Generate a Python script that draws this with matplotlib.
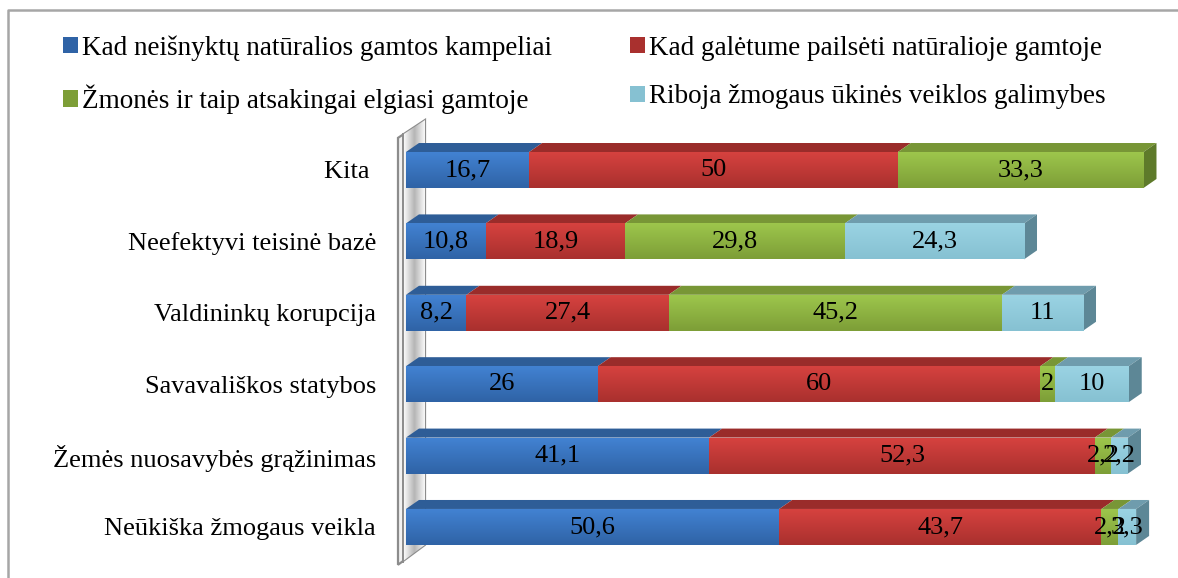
import numpy as np
import matplotlib.pyplot as plt
from matplotlib.colors import LinearSegmentedColormap
from matplotlib.patches import Polygon, Patch
from matplotlib.lines import Line2D

# -------------------------------------------------------------
# 3D-style stacked horizontal bars (Excel look)
# -------------------------------------------------------------

categories = ["Kita ", "Neefektyvi teisinė bazė", "Valdininkų korupcija",
              "Savavališkos statybos", "Žemės nuosavybės grąžinimas",
              "Neūkiška žmogaus veikla"]

series_names = ["Kad neišnyktų natūralios gamtos kampeliai",
                "Kad galėtume pailsėti natūralioje gamtoje",
                "Žmonės ir taip atsakingai elgiasi gamtoje",
                "Riboja žmogaus ūkinės veiklos galimybes"]

neisnyktu = [16.7, 10.8, 8.2, 26, 41.1, 50.6]
pailseti = [50, 18.9, 27.4, 60, 52.3, 43.7]
atsakingai = [33.3, 29.8, 45.2, 2, 2.2, 2.3]
riboja = [0, 24.3, 11, 10, 2.3, 2.4]

labels = [
    ["16,7", "10,8", "8,2", "26", "41,1", "50,6"],
    ["50", "18,9", "27,4", "60", "52,3", "43,7"],
    ["33,3", "29,8", "45,2", "2", "2,2", "2,2"],
    ["", "24,3", "11", "10", "2,2", "3,3"],
]

# front top colour, front bottom colour, top face, side face
palette = [
    ("#4282d2", "#2f63a6", "#2e5d97", "#254d80"),
    ("#d6423f", "#a9302e", "#9a2c2a", "#7e2321"),
    ("#9dc64c", "#7d9e37", "#789636", "#5e7a2a"),
    ("#9ad3e3", "#86c1d2", "#6f9cad", "#5d8796"),
]

plt.rcParams["font.family"] = ["Liberation Serif", "DejaVu Serif"]
FS = 19

fig = plt.figure(figsize=(11.78, 5.78), dpi=100)
ax = fig.add_axes([0.3321, 0.0142, 0.6574, 0.7905])

H = 0.504     # bar thickness
DX = 1.76     # depth offset in x
DY = 0.126    # depth offset in y

data = [neisnyktu, pailseti, atsakingai, riboja]
ypos = np.arange(len(categories))[::-1]

# back wall
wall = Polygon([(-1.08, 5.45), (2.58, 5.70), (2.58, -0.25), (-1.08, -0.53)],
               closed=True, facecolor="#f2f2f2", edgecolor="#8c8c8c", lw=1.6, zorder=1)
ax.add_patch(wall)
grad_w = np.linspace(0, 1, 50).reshape(1, -1)
wcmap = LinearSegmentedColormap.from_list("w", ["#ffffff", "#b5b5b5", "#ffffff"])
im = ax.imshow(grad_w, extent=[-0.41, 2.58, -0.6, 5.8], cmap=wcmap, aspect="auto", zorder=1.1)
im.set_clip_path(wall)
ax.plot([-0.41, -0.41], [5.5, -0.49], color="#8c8c8c", lw=1.4, zorder=1.2)

grad = np.linspace(0, 1, 64).reshape(-1, 1)

for i, y in enumerate(ypos):
    left = 0.0
    nonzero = [k for k in range(4) if data[k][i] > 0]
    last = nonzero[-1]
    for k in nonzero:
        w = data[k][i]
        right = left + w
        ctop, cbot, ctopface, cside = palette[k]
        cmap = LinearSegmentedColormap.from_list("g%d" % k, [ctop, cbot])
        ax.imshow(grad, extent=[left, right, y - H / 2, y + H / 2], cmap=cmap,
                  aspect="auto", origin="upper", zorder=3)
        ax.add_patch(Polygon([(left, y + H / 2), (right, y + H / 2),
                              (right + DX, y + H / 2 + DY), (left + DX, y + H / 2 + DY)],
                             closed=True, facecolor=ctopface, edgecolor="none", zorder=2.5))
        if k == last:
            ax.add_patch(Polygon([(right, y - H / 2), (right + DX, y - H / 2 + DY),
                                  (right + DX, y + H / 2 + DY), (right, y + H / 2)],
                                 closed=True, facecolor=cside, edgecolor="none", zorder=2.5))
        ax.text((left + right) / 2, y, labels[k][i], ha="center", va="center",
                fontsize=FS, color="black", zorder=5)
        left = right

ax.set_xlim(-2, 103)
ax.set_ylim(-0.6, 5.8)
ax.set_yticks(ypos)
ax.set_yticklabels(categories, fontsize=FS)
ax.tick_params(axis="y", length=0, pad=11)
ax.set_xticks([])
for s in ax.spines.values():
    s.set_visible(False)
ax.patch.set_alpha(0)

# legend: columns fill first, so order blue, green, red, light blue
handles = [Patch(facecolor=palette[k][1], edgecolor="none") for k in range(4)]
order = [0, 2, 1, 3]
fig.legend([handles[k] for k in order], [series_names[k] for k in order],
           ncol=2, loc="upper left", bbox_to_anchor=(0.044, 0.958), frameon=False,
           fontsize=19.5, handlelength=0.55, handleheight=0.55, handletextpad=0.15,
           columnspacing=2.9, labelspacing=0.88, borderaxespad=0)

# chart area border (left and top edges visible)
fig.add_artist(Line2D([8 / 1178, 8 / 1178, 1.0], [0.0, 1 - 10 / 578, 1 - 10 / 578],
                      transform=fig.transFigure, color="#a6a6a6", lw=1.8))

fig.savefig("out.png", dpi=100)
